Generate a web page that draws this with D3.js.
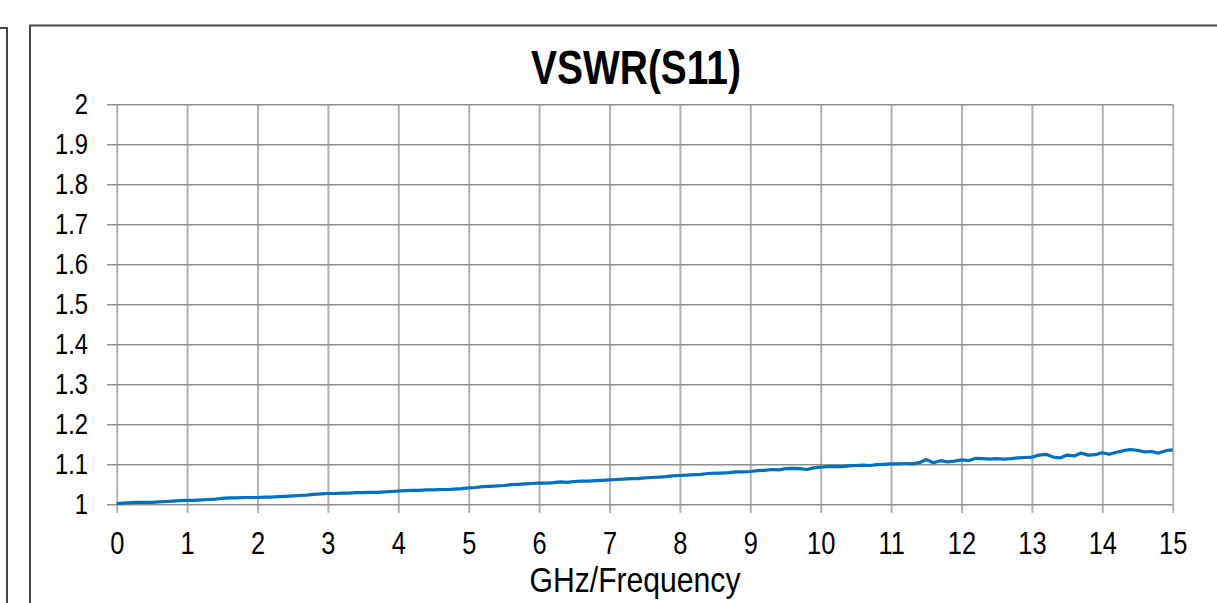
<!DOCTYPE html>
<html>
<head>
<meta charset="utf-8">
<script src="https://cdn.jsdelivr.net/npm/d3@7"></script>
<style>
  html, body { margin: 0; padding: 0; background: #fff; }
  svg { display: block; }
  text { font-family: "Liberation Sans Narrow", "Arial Narrow", "Liberation Sans", Arial, sans-serif; fill: #000; }
</style>
</head>
<body>
<svg id="chart" width="1217" height="603"></svg>
<script>
// ---- data ----
const title = "VSWR(S11)";
const xLabel = "GHz/Frequency";
const xTicks = [0,1,2,3,4,5,6,7,8,9,10,11,12,13,14,15];
const yTicks = [1,1.1,1.2,1.3,1.4,1.5,1.6,1.7,1.8,1.9,2];
const freqStep = 0.1; // GHz between samples
const vswr = [
  1.002,1.003,1.004,1.005,1.005,1.005,1.006,1.007,1.008,1.009,
  1.010,1.010,1.011,1.012,1.013,1.015,1.016,1.016,1.017,1.017,
  1.017,1.018,1.018,1.019,1.020,1.021,1.022,1.023,1.025,1.026,
  1.027,1.027,1.028,1.028,1.029,1.029,1.030,1.030,1.031,1.032,
  1.033,1.034,1.035,1.035,1.036,1.036,1.037,1.037,1.038,1.039,
  1.041,1.042,1.044,1.045,1.046,1.047,1.049,1.050,1.051,1.052,
  1.053,1.053,1.054,1.056,1.055,1.057,1.058,1.058,1.059,1.060,
  1.061,1.062,1.063,1.064,1.064,1.066,1.067,1.068,1.069,1.071,
  1.072,1.073,1.074,1.075,1.077,1.078,1.078,1.079,1.081,1.081,
  1.082,1.084,1.085,1.087,1.086,1.089,1.090,1.089,1.087,1.091,
  1.093,1.094,1.095,1.094,1.096,1.097,1.098,1.097,1.099,1.100,
  1.101,1.101,1.102,1.101,1.104,1.112,1.104,1.109,1.106,1.108,
  1.111,1.109,1.115,1.114,1.113,1.114,1.113,1.114,1.116,1.117,
  1.118,1.123,1.125,1.118,1.116,1.123,1.121,1.128,1.123,1.124,
  1.129,1.125,1.130,1.134,1.137,1.135,1.131,1.132,1.128,1.134,
  1.136
];

// ---- drawing ----
const svg = d3.select("#chart");
const narrow = 0.82; // condensed look of the original font

function condense(sel) {
  sel.each(function () {
    const w = this.getComputedTextLength();
    d3.select(this).attr("textLength", w * narrow).attr("lengthAdjust", "spacingAndGlyphs");
  });
}

// frames
svg.append("path")
  .attr("d", "M0,28H7V603")
  .attr("fill", "none").attr("stroke", "#444").attr("stroke-width", 2);
svg.append("path")
  .attr("d", "M30,603V25.5H1217")
  .attr("fill", "none").attr("stroke", "#444").attr("stroke-width", 2);

const x = d3.scaleLinear().domain([0, 15]).range([116.7, 1172.7]);
const y = d3.scaleLinear().domain([1, 2]).range([504.3, 104.3]);

// x axis with vertical gridlines
const xAxisY = 513;
const gx = svg.append("g")
  .attr("transform", `translate(0,${xAxisY})`)
  .call(d3.axisBottom(x).tickValues(xTicks).tickFormat(d3.format("d"))
        .tickSizeInner(-(xAxisY - y(2))).tickSizeOuter(0).tickPadding(19));
gx.select(".domain").remove();
gx.selectAll(".tick line").attr("stroke", "#b3b3b3").attr("stroke-width", 2);
gx.selectAll(".tick text").attr("font-size", 31).attr("dy", "0.71em")
  .style("font-family", '"Liberation Sans Narrow", "Arial Narrow", "Liberation Sans", sans-serif')
  .call(condense);

// y axis with horizontal gridlines
const yAxisX = 107;
const gy = svg.append("g")
  .attr("transform", `translate(${yAxisX},0)`)
  .call(d3.axisLeft(y).tickValues(yTicks).tickFormat(d => d3.format(".1~f")(d))
        .tickSizeInner(-(x(15) - yAxisX)).tickSizeOuter(0).tickPadding(19));
gy.select(".domain").remove();
gy.selectAll(".tick line").attr("stroke", "#8f8f8f").attr("stroke-width", 1.5);
gy.selectAll(".tick text").attr("font-size", 29).attr("dy", "0.32em")
  .style("font-family", '"Liberation Sans Narrow", "Arial Narrow", "Liberation Sans", sans-serif')
  .call(condense);

// line
const line = d3.line()
  .x((d, i) => x(i * freqStep))
  .y(d => y(d))
  .curve(d3.curveLinear);
svg.append("path")
  .datum(vswr)
  .attr("d", line)
  .attr("fill", "none")
  .attr("stroke", "#0070C0")
  .attr("stroke-width", 3.2)
  .attr("stroke-linejoin", "round");

// title
svg.append("text")
  .attr("x", 636).attr("y", 84)
  .attr("text-anchor", "middle")
  .attr("font-size", 49).attr("font-weight", "bold")
  .attr("textLength", 210).attr("lengthAdjust", "spacingAndGlyphs")
  .text(title);

// x label
svg.append("text")
  .attr("x", 635).attr("y", 591.5)
  .attr("text-anchor", "middle")
  .attr("font-size", 35)
  .attr("textLength", 211).attr("lengthAdjust", "spacingAndGlyphs")
  .text(xLabel);
</script>
</body>
</html>
